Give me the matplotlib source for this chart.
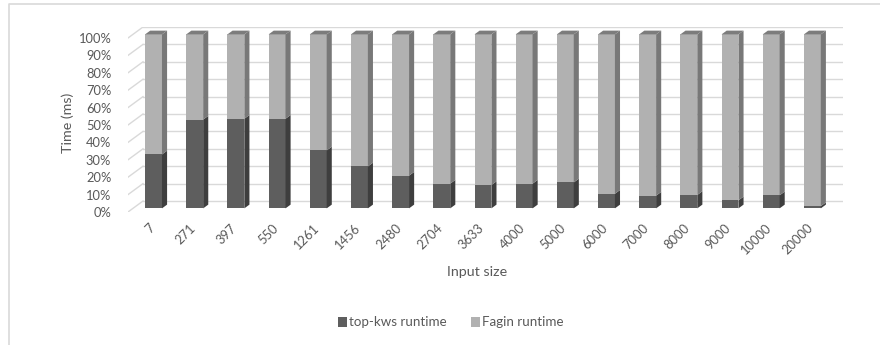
import numpy as np
import matplotlib
matplotlib.use("Agg")
import matplotlib.pyplot as plt
from matplotlib.patches import Polygon, Rectangle
from matplotlib.lines import Line2D

plt.rcParams["font.family"] = ["Lato", "DejaVu Sans"]

# ---- data (share of total runtime, %) ----
input_sizes = ["7", "271", "397", "550", "1261", "1456", "2480", "2704", "3633",
               "4000", "5000", "6000", "7000", "8000", "9000", "10000", "20000"]
topkws_share = [31.0, 51.0, 51.5, 51.5, 33.3, 24.1, 18.8, 14.2, 13.4,
                14.2, 14.9, 8.4, 7.3, 7.7, 4.6, 7.5, 1.3]
fagin_share = [69.0, 49.0, 48.5, 48.5, 66.7, 75.9, 81.2, 85.8, 86.6,
               85.8, 85.1, 91.6, 92.7, 92.3, 95.4, 92.5, 98.7]
series_names = ["top-kws runtime", "Fagin runtime"]
y_ticks = [0, 10, 20, 30, 40, 50, 60, 70, 80, 90, 100]

# ---- styling ----
TEXT = "#595959"
GRID = "#d9d9d9"
FRONT = ["#5e5e5e", "#b1b1b1"]
SIDE = ["#3e3e3e", "#787878"]
TOP = "#7c7c7c"

W_PX, H_PX = 880, 345
fig = plt.figure(figsize=(W_PX / 100, H_PX / 100), dpi=100)

# plot area in pixels: front plane left/bottom, depth offset of the floor
n = len(input_sizes)
left_px, bottom_px, top_px = 128, 212, 38
depth_dx_px, depth_dy_px = 15, 11
right_back_px = 843
step_px = (right_back_px - depth_dx_px - left_px) / n
ypx_per_pct = (bottom_px - top_px) / 100.0
DX = depth_dx_px / step_px          # depth shift in category units
DY = depth_dy_px / ypx_per_pct      # depth shift in percent units

ax_w = n * step_px + depth_dx_px
ax_h = (bottom_px - top_px) + depth_dy_px
ax = fig.add_axes([left_px / W_PX, (H_PX - bottom_px) / H_PX, ax_w / W_PX, ax_h / H_PX])
ax.set_xlim(0, n + DX)
ax.set_ylim(0, 100 + DY)
for s in ax.spines.values():
    s.set_visible(False)
ax.set_facecolor("none")

# back wall gridlines and side-wall diagonals
for v in y_ticks:
    ax.add_line(Line2D([DX, n + DX], [v + DY, v + DY], color=GRID, lw=1.0, zorder=1))
    ax.add_line(Line2D([0, DX], [v, v + DY], color=GRID, lw=1.0, zorder=1))

# pseudo-3D stacked bars
bar_w = 0.41
d0, d1 = 0.33, 0.67
dd = d1 - d0
shares = np.array([topkws_share, fagin_share], dtype=float)
shares = shares / shares.sum(axis=0) * 100.0
centers = np.arange(n) + 0.5 + d0 * DX

for i in range(n):
    bottom = 0.0
    for k in range(2):
        h = shares[k, i]
        x0 = centers[i] - bar_w / 2
        x1 = centers[i] + bar_w / 2
        yb = bottom + d0 * DY
        yt = bottom + h + d0 * DY
        ax.add_patch(Rectangle((x0, yb), bar_w, h, facecolor=FRONT[k],
                               edgecolor="none", zorder=3))
        side = [(x1, yb), (x1 + dd * DX, yb + dd * DY),
                (x1 + dd * DX, yt + dd * DY), (x1, yt)]
        ax.add_patch(Polygon(side, closed=True, facecolor=SIDE[k],
                             edgecolor="none", zorder=3))
        if k == 1:
            top = [(x0, yt), (x1, yt), (x1 + dd * DX, yt + dd * DY),
                   (x0 + dd * DX, yt + dd * DY)]
            ax.add_patch(Polygon(top, closed=True, facecolor=TOP,
                                 edgecolor="none", zorder=3))
        bottom += h

# ticks
ax.set_yticks(y_ticks)
ax.set_yticklabels([f"{v}%" for v in y_ticks], color=TEXT, fontsize=9.3)
ax.tick_params(axis="y", length=0, pad=12)
ax.set_xticks(centers - 0.03)
ax.set_xticklabels(input_sizes, rotation=45, ha="right", va="center",
                   rotation_mode="anchor", color=TEXT, fontsize=9.3)
ax.tick_params(axis="x", length=0, pad=10)

# axis titles
fig.text(68 / W_PX, 1 - 123 / H_PX, "Time (ms)", rotation=90, ha="center",
         va="center", color=TEXT, fontsize=10.3)
fig.text(477 / W_PX, 1 - 272 / H_PX, "Input size", ha="center", va="center",
         color=TEXT, fontsize=10.3)

# legend
handles = [Rectangle((0, 0), 1, 1, facecolor=FRONT[k], edgecolor="none") for k in range(2)]
fig.legend(handles, series_names, loc="center", ncol=2, frameon=False,
           bbox_to_anchor=(451 / W_PX, 1 - 322.5 / H_PX), fontsize=9.6,
           labelcolor=TEXT, handlelength=0.7, handleheight=0.7,
           handletextpad=0.15, columnspacing=1.8)

# chart frame (left and top edges)
fig.add_artist(Line2D([9 / W_PX, 9 / W_PX, 1.0], [0.0, 1 - 4 / H_PX, 1 - 4 / H_PX],
                      transform=fig.transFigure, color=GRID, lw=1.2))

fig.savefig("out.png", dpi=100, facecolor="white")
